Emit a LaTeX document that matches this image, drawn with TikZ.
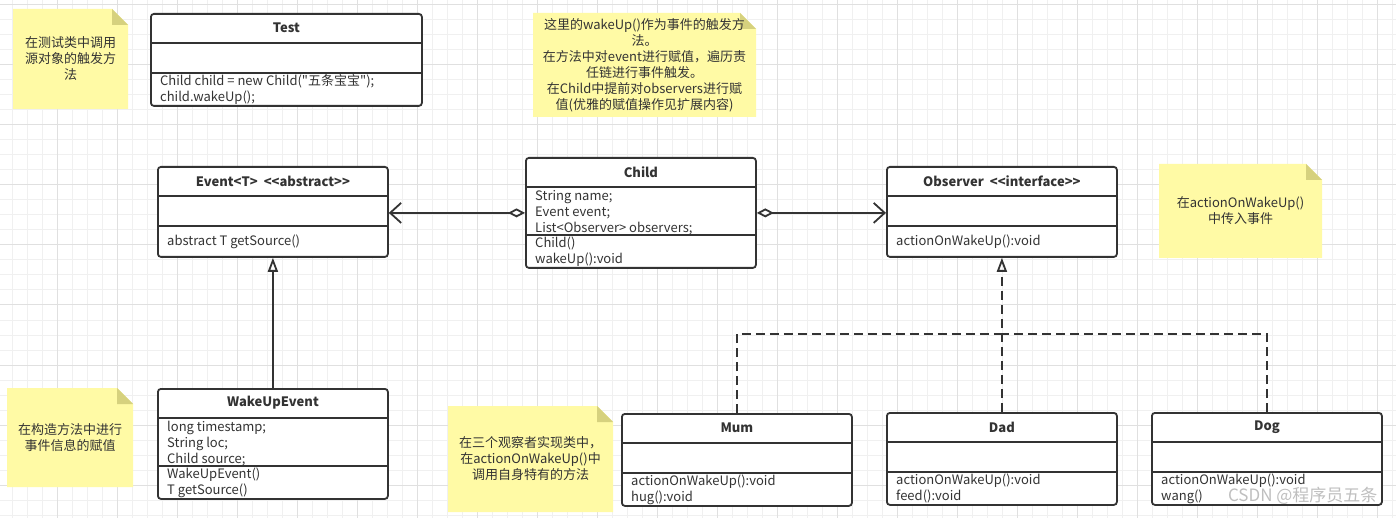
\documentclass[tikz,border=0pt]{standalone}
\usepackage{fontspec}
\newfontfamily\uifont{Noto Sans CJK SC}
\usetikzlibrary{arrows.meta}

\definecolor{ink}{HTML}{333333}
\definecolor{notefill}{HTML}{FFFAA5}
\definecolor{notefold}{HTML}{D6D17E}
\definecolor{gridminor}{HTML}{F0F0F0}
\definecolor{gridmajor}{HTML}{E0E0E0}

% name, x1, y1, x2, y2, text
\newcommand\stickynote[6]{%
  \fill[notefill] (#2,#3) -- (#4-16,#3) -- (#4,#3+16) -- (#4,#5) -- (#2,#5) -- cycle;
  \fill[notefold] (#4-16,#3) -- (#4,#3+16) -- (#4-16,#3+16) -- cycle;
  \node[notetext] (#1) at ({(#2+#4)/2},{(#3+#5)/2}) {#6};
}

\begin{document}
\begin{tikzpicture}[x=1pt, y=-1pt,
  umlbox/.style={draw=ink, line width=1.8pt, rounded corners=3pt, fill=white,
    inner sep=0pt, anchor=north west},
  umlsep/.style={draw=ink, line width=1.8pt},
  umltitle/.style={font=\uifont\bfseries\fontsize{13}{16}\selectfont, text=ink, inner sep=0pt},
  member/.style={font=\uifont\fontsize{13}{16}\selectfont, text=ink, inner sep=0pt,
    anchor=north west, align=left},
  notetext/.style={font=\uifont\fontsize{13}{16}\selectfont, text=ink, align=center, inner sep=0pt},
  assoc/.style={draw=ink, line width=1.8pt,
    {Diamond[open, length=17pt, width=9pt]}-{Straight Barb[length=11pt, width=20pt]}},
  inherit/.style={draw=ink, line width=1.8pt, -{Triangle[open, length=14pt, width=10pt]}},
  realize/.style={inherit, dash pattern=on 9pt off 5pt},
  realizeline/.style={draw=ink, line width=1.8pt, dash pattern=on 9pt off 5pt},
]
\useasboundingbox (0,0) rectangle (1396,518);
\fill[white] (0,0) rectangle (1396,518);

% grid
\foreach \gx in {12,27,...,1396} \draw[gridminor, line width=1pt] (\gx,0) -- (\gx,518);
\foreach \gy in {5,20,...,518} \draw[gridminor, line width=1pt] (0,\gy) -- (1396,\gy);
\foreach \gx in {57,117,...,1396} \draw[gridmajor, line width=1pt] (\gx,0) -- (\gx,518);
\foreach \gy in {5,65,...,518} \draw[gridmajor, line width=1pt] (0,\gy) -- (1396,\gy);

% notes
\stickynote{note-test}{13}{9}{128}{109}{在测试类中调用\\源对象的触发方\\法}
\stickynote{note-wake}{533}{13}{756}{117}{这里的wakeUp()作为事件的触发方\\法。\\在方法中对event进行赋值，遍历责\\任链进行事件触发。\\在Child中提前对observers进行赋\\值(优雅的赋值操作见扩展内容)}
\stickynote{note-action}{1159}{164}{1322}{258}{在actionOnWakeUp()\\中传入事件}
\stickynote{note-ctor}{7}{388}{133}{487}{在构造方法中进行\\事件信息的赋值}
\stickynote{note-impl}{448}{406}{613}{512}{在三个观察者实现类中，\\在actionOnWakeUp()中\\调用自身特有的方法}

% Test
\node[umlbox, minimum width=271, minimum height=92] (test) at (150,13) {};
\draw[umlsep] (test.west |- 0,43) -- (test.east |- 0,43);
\draw[umlsep] (test.west |- 0,73) -- (test.east |- 0,73);
\node[umltitle] (test-name) at (test.north |- 0,28) {Test};
\node[member] (test-ops) at (160,74.3) {\strut Child child = new Child("五条宝宝");\\child.wakeUp();};

% Event
\node[umlbox, minimum width=230, minimum height=90] (event) at (157,166) {};
\draw[umlsep] (event.west |- 0,196) -- (event.east |- 0,196);
\draw[umlsep] (event.west |- 0,226) -- (event.east |- 0,226);
\node[umltitle] (event-name) at (event.north |- 0,181) {Event<T> \ <<abstract>>};
\node[member] (event-ops) at (167,234.3) {\strut abstract T getSource()};

% Child
\node[umlbox, minimum width=230, minimum height=110] (child) at (525,157) {};
\draw[umlsep] (child.west |- 0,187) -- (child.east |- 0,187);
\draw[umlsep] (child.west |- 0,235) -- (child.east |- 0,235);
\node[umltitle] (child-name) at (child.north |- 0,172) {Child};
\node[member] (child-attrs) at (535,189.3) {\strut String name;\\Event event;\\List<Observer> observers;};
\node[member] (child-ops) at (535,236.3) {\strut Child()\\wakeUp():void};

% Observer
\node[umlbox, minimum width=230, minimum height=90] (observer) at (886,166) {};
\draw[umlsep] (observer.west |- 0,196) -- (observer.east |- 0,196);
\draw[umlsep] (observer.west |- 0,226) -- (observer.east |- 0,226);
\node[umltitle] (observer-name) at (observer.north |- 0,181) {Observer \ <<interface>>};
\node[member] (observer-ops) at (896,234.3) {\strut actionOnWakeUp():void};

% WakeUpEvent
\node[umlbox, minimum width=230, minimum height=110] (wakeup) at (157,388) {};
\draw[umlsep] (wakeup.west |- 0,418) -- (wakeup.east |- 0,418);
\draw[umlsep] (wakeup.west |- 0,466) -- (wakeup.east |- 0,466);
\node[umltitle] (wakeup-name) at (wakeup.north |- 0,403) {WakeUpEvent};
\node[member] (wakeup-attrs) at (167,419.8) {\strut long timestamp;\\String loc;\\Child source;};
\node[member] (wakeup-ops) at (167,467.5) {\strut WakeUpEvent()\\T getSource()};

% Mum, Dad, Dog
\node[umlbox, minimum width=230, minimum height=92] (mum) at (621,413) {};
\draw[umlsep] (mum.west |- 0,443) -- (mum.east |- 0,443);
\draw[umlsep] (mum.west |- 0,473) -- (mum.east |- 0,473);
\node[umltitle] (mum-name) at (mum.north |- 0,428) {Mum};
\node[member] (mum-ops) at (631,474.3) {\strut actionOnWakeUp():void\\hug():void};

\node[umlbox, minimum width=230, minimum height=92] (dad) at (886,412) {};
\draw[umlsep] (dad.west |- 0,442) -- (dad.east |- 0,442);
\draw[umlsep] (dad.west |- 0,472) -- (dad.east |- 0,472);
\node[umltitle] (dad-name) at (dad.north |- 0,427) {Dad};
\node[member] (dad-ops) at (896,473.3) {\strut actionOnWakeUp():void\\feed():void};

\node[umlbox, minimum width=230, minimum height=92] (dog) at (1151,412) {};
\draw[umlsep] (dog.west |- 0,442) -- (dog.east |- 0,442);
\draw[umlsep] (dog.west |- 0,472) -- (dog.east |- 0,472);
\node[umltitle] (dog-name) at (dog.north |- 0,427) {Dog};
\node[member] (dog-ops) at (1161,473.3) {\strut actionOnWakeUp():void\\wang()};

% connectors
\draw[assoc] (child.west) -- (event.east |- child.west);
\draw[assoc] (child.east) -- (observer.west |- child.east);
\draw[inherit] (wakeup.north) -- (event.south);
\coordinate (impl-join) at (1001,334);
\draw[realize] (dad.north) -- (observer.south);
\draw[realizeline] (mum.north) |- (impl-join);
\draw[realizeline] (dog.north) |- (impl-join);

\node[font=\uifont\fontsize{17}{20}\selectfont, text=black!25, anchor=east] (csdn) at (1381,496) {CSDN @程序员五条};
\end{tikzpicture}
\end{document}
